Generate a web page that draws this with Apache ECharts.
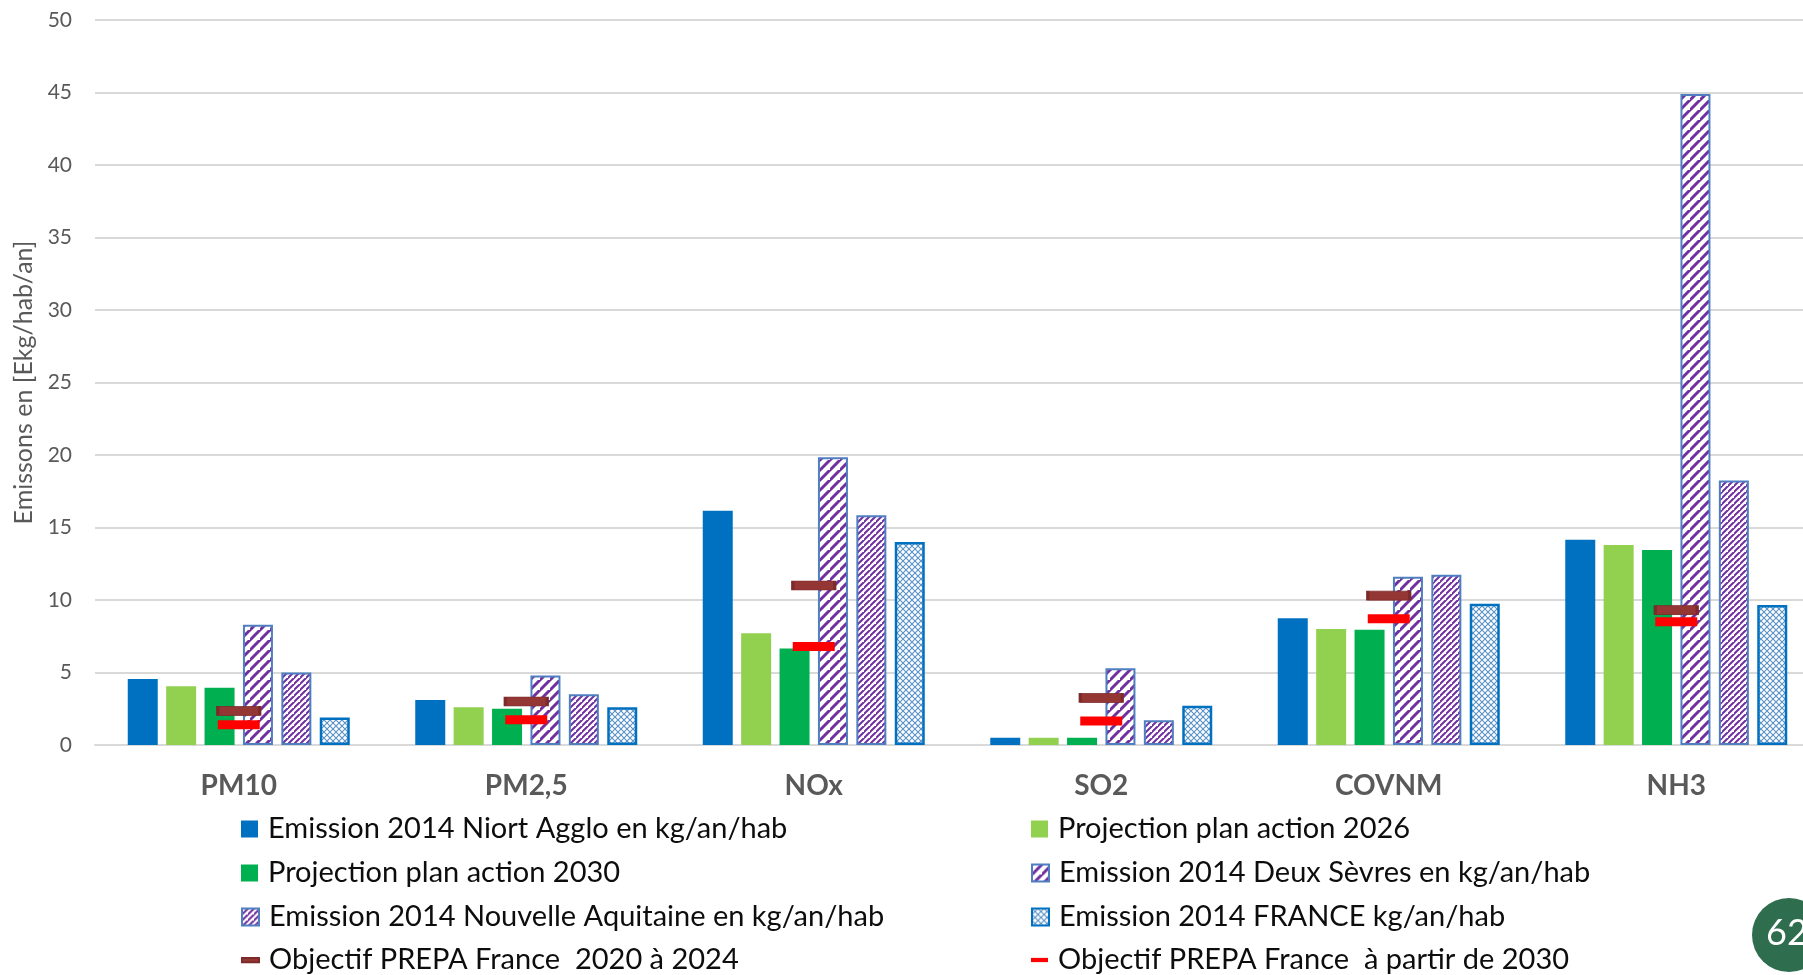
<!DOCTYPE html>
<html>
<head>
<meta charset="utf-8">
<script src="https://cdn.jsdelivr.net/npm/echarts@6/dist/echarts.min.js"></script>
<style>
html,body{margin:0;padding:0;background:#fff;}
#chart{width:1803px;height:975px;}
</style>
</head>
<body>
<div id="chart"></div>
<script>
// ---- Data ----
const categories = ['PM10', 'PM2,5', 'NOx', 'SO2', 'COVNM', 'NH3'];
const niortAgglo2014 = [4.55, 3.1, 16.15, 0.5, 8.75, 14.15];
const planAction2026 = [4.05, 2.6, 7.7, 0.5, 8.0, 13.8];
const planAction2030 = [3.95, 2.5, 6.65, 0.5, 7.95, 13.45];
const deuxSevres2014 = [8.3, 4.8, 19.85, 5.3, 11.6, 44.9];
const nouvelleAquitaine2014 = [5.0, 3.5, 15.85, 1.7, 11.75, 18.25];
const france2014 = [1.9, 2.6, 14.0, 2.7, 9.75, 9.65];
const prepa2020 = [2.35, 3.0, 11.0, 3.25, 10.3, 9.3];
const prepa2030 = [1.4, 1.75, 6.8, 1.65, 8.7, 8.5];
const yTicks = {min: 0, max: 50, interval: 5};

const names = [
  'Emission 2014 Niort Agglo en kg/an/hab',
  'Projection plan action 2026',
  'Projection plan action 2030',
  'Emission 2014 Deux Sèvres en kg/an/hab',
  'Emission 2014 Nouvelle Aquitaine en kg/an/hab',
  'Emission 2014 FRANCE kg/an/hab',
  'Objectif PREPA France  2020 à 2024',
  'Objectif PREPA France  à partir de 2030'
];

// ---- Patterns ----
function stripePattern(period, width, color) {
  const c = document.createElement('canvas');
  c.width = period; c.height = period;
  const g = c.getContext('2d');
  g.fillStyle = '#fff'; g.fillRect(0, 0, period, period);
  g.strokeStyle = color; g.lineWidth = width; g.lineCap = 'square';
  g.beginPath();
  g.moveTo(-1, period + 1); g.lineTo(period + 1, -1);
  g.moveTo(-period - 1, period + 1); g.lineTo(1, -1);
  g.moveTo(period - 1, 2 * period + 1); g.lineTo(2 * period + 1, period - 1);
  g.stroke();
  return c;
}
function dottedPattern() {
  const p = 6;
  const c = document.createElement('canvas');
  c.width = p; c.height = p;
  const g = c.getContext('2d');
  g.fillStyle = '#fff'; g.fillRect(0, 0, p, p);
  g.strokeStyle = 'rgba(46,117,182,0.8)'; g.lineWidth = 1.1;
  g.beginPath();
  g.moveTo(0, 0); g.lineTo(p, p);
  g.moveTo(p, 0); g.lineTo(0, p);
  g.stroke();
  return c;
}
const dsPat = {image: stripePattern(10, 3, '#7030A0'), repeat: 'repeat'};
const naPat = {image: stripePattern(6, 2, '#7030A0'), repeat: 'repeat'};
const frPat = {image: dottedPattern(), repeat: 'repeat'};

const chart = echarts.init(document.getElementById('chart'), null, {renderer: 'canvas'});

function bar(name, data, style) {
  return {
    name, type: 'bar', data,
    barWidth: 30, barGap: '28%',
    itemStyle: style
  };
}
function marker(name, data, color, border) {
  return {
    name, type: 'scatter', data,
    symbol: 'rect', symbolSize: [42, 9], z: 5,
    itemStyle: {color, borderColor: border, borderWidth: border ? 1.5 : 0, opacity: 1},
    emphasis: {disabled: true}
  };
}
const dashIcon = 'path://M0,0H20V5H0Z';
const legendText = {color: '#0d0d0d', fontSize: 29, fontFamily: 'Lato', lineHeight: 32, padding: [0, 0, 0, 5]};

// legend slots: [series index, left, row centre y]
const legendSlots = [
  [0, 241, 829], [2, 241, 873], [4, 241, 917], [6, 241, 960],
  [1, 1031, 829], [3, 1031, 873], [5, 1031, 917], [7, 1031, 960]
];
const legends = legendSlots.map(([i, x, y]) => ({
  orient: 'horizontal', left: x, top: y - 16, padding: 0,
  itemWidth: 17, itemHeight: 17, textStyle: legendText, selectedMode: false,
  data: [{name: names[i], icon: i >= 6 ? dashIcon : 'rect'}]
}));

chart.setOption({
  animation: false,
  backgroundColor: '#fff',
  textStyle: {fontFamily: 'Lato'},
  grid: {left: 95, width: 1725, top: 20, bottom: 230, containLabel: false, outerBoundsMode: 'none'},
  xAxis: {
    type: 'category', data: categories,
    axisLine: {lineStyle: {color: '#d9d9d9', width: 2}},
    axisTick: {show: false},
    axisLabel: {color: '#595959', fontSize: 28, fontWeight: 'bold', margin: 27, fontFamily: 'Lato'}
  },
  yAxis: {
    type: 'value', min: yTicks.min, max: yTicks.max, interval: yTicks.interval,
    name: 'Emissons en [Ekg/hab/an]', nameLocation: 'middle', nameRotate: 90, nameGap: 58,
    nameTextStyle: {color: '#595959', fontSize: 25, fontFamily: 'Lato'},
    axisLine: {show: false}, axisTick: {show: false},
    axisLabel: {color: '#595959', fontSize: 21, margin: 23, fontFamily: 'Lato'},
    splitLine: {lineStyle: {color: '#d9d9d9', width: 2}}
  },
  legend: legends,
  series: [
    bar(names[0], niortAgglo2014, {color: '#0070C0'}),
    bar(names[1], planAction2026, {color: '#92D050'}),
    bar(names[2], planAction2030, {color: '#00B050'}),
    bar(names[3], deuxSevres2014, {color: dsPat, borderColor: '#4F7FC0', borderWidth: 2}),
    bar(names[4], nouvelleAquitaine2014, {color: naPat, borderColor: '#4F7FC0', borderWidth: 2}),
    bar(names[5], france2014, {color: frPat, borderColor: '#0070C0', borderWidth: 2.5}),
    marker(names[6], prepa2020, '#943634', '#7a2b2a'),
    marker(names[7], prepa2030, '#FF0000', null)
  ],
  graphic: [
    {type: 'circle', shape: {cx: 1789, cy: 935, r: 37}, style: {fill: '#2E6E4F'}, z: 10},
    {type: 'text', left: 1766, top: 915, style: {text: '62', fill: '#fff', fontSize: 36, fontFamily: 'Lato'}, z: 11}
  ]
});
</script>
</body>
</html>
